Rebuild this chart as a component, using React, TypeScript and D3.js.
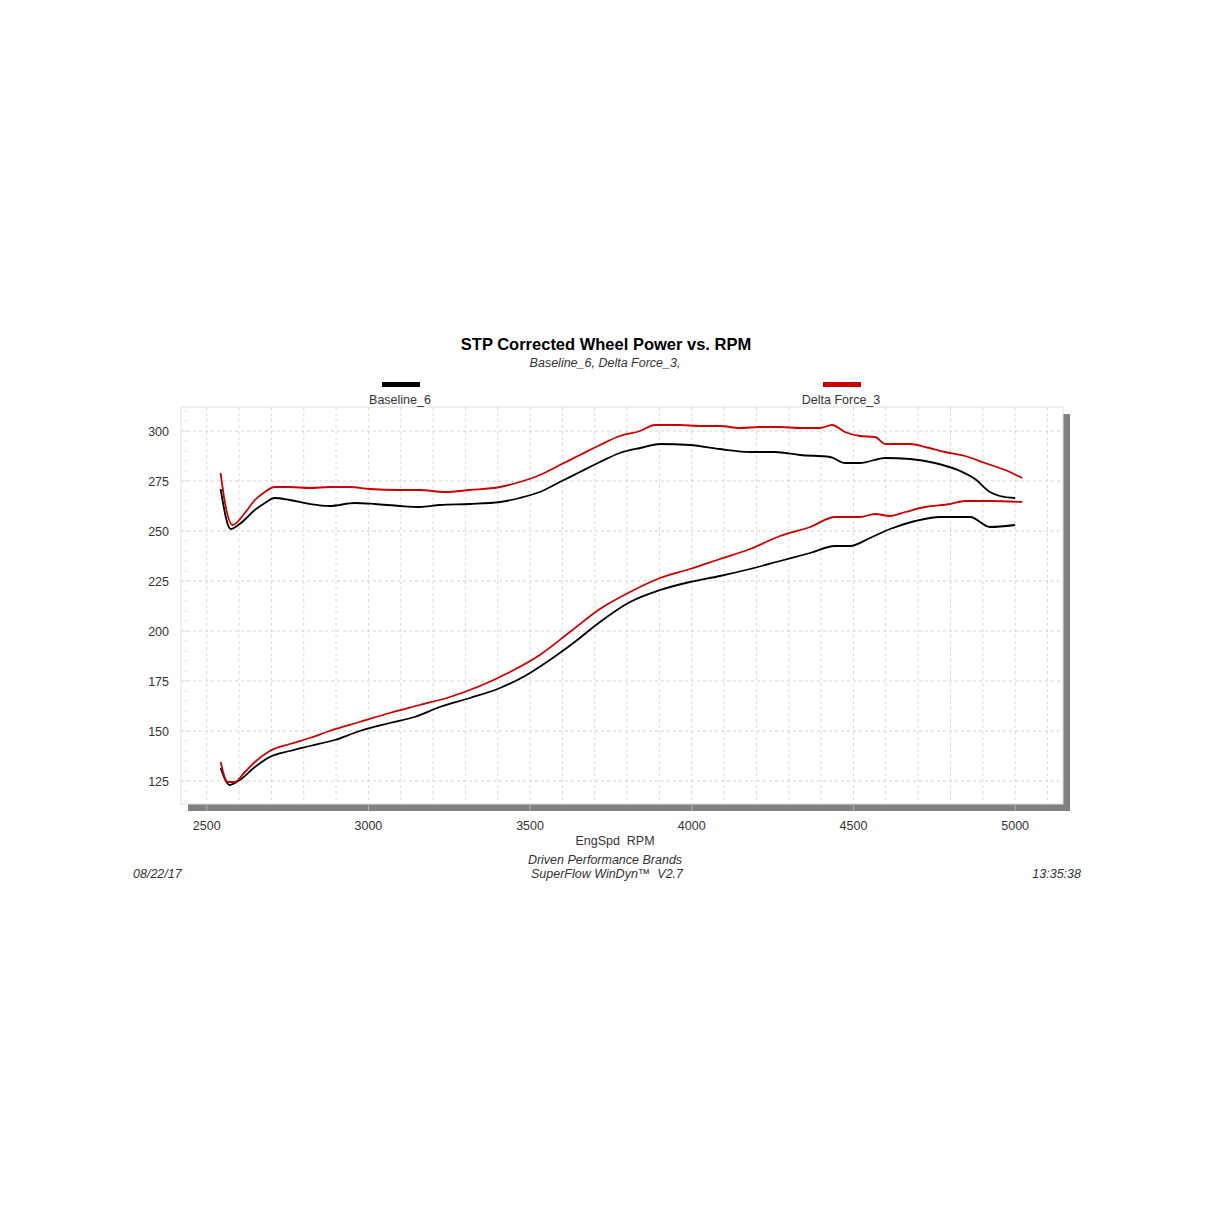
import React from "react";
import * as d3 from "d3";

const xTicks = [2500, 3000, 3500, 4000, 4500, 5000];
const yTicks = [125, 150, 175, 200, 225, 250, 275, 300];

const baseUpperRpm = [2543, 2574, 2602, 2649, 2680, 2710, 2757, 2819, 2880, 2958, 3020, 3097, 3159, 3221, 3314, 3407, 3468, 3530, 3592, 3654, 3716, 3778, 3840, 3902, 3994, 4087, 4180, 4257, 4335, 4428, 4474, 4520, 4598, 4675, 4752, 4830, 4876, 4922, 4953, 5000];
const baseUpperVal = [271, 251, 253.5, 260.5, 264, 266.5, 265.5, 263.5, 262.5, 264, 263.5, 262.5, 262, 263, 263.5, 264.5, 266.5, 269.5, 274.5, 279.5, 284.5, 289, 291.5, 293.5, 293, 291, 289.5, 289.5, 288, 287, 284, 284, 286.5, 286, 284, 280, 276, 269.5, 267.5, 266.5];

const deltaUpperRpm = [2543, 2555, 2580, 2618, 2649, 2680, 2710, 2757, 2819, 2880, 2942, 3004, 3097, 3159, 3236, 3314, 3407, 3468, 3530, 3592, 3654, 3716, 3778, 3840, 3886, 3963, 4025, 4087, 4149, 4211, 4273, 4335, 4396, 4434, 4474, 4520, 4567, 4598, 4675, 4722, 4783, 4845, 4907, 4969, 5022];
const deltaUpperVal = [279, 265.5, 253, 259, 265.5, 269.5, 272, 272, 271.5, 272, 272, 271, 270.5, 270.5, 269.5, 270.5, 272, 274.5, 278, 283, 288, 293, 297.5, 300, 303, 303, 302.5, 302.5, 301.5, 302, 302, 301.5, 301.5, 303, 299.5, 297.5, 297, 293.5, 293.5, 292, 289.5, 287.5, 284, 280.5, 276.5];

const baseLowerRpm = [2543, 2571, 2602, 2649, 2695, 2757, 2819, 2896, 2973, 3066, 3143, 3221, 3314, 3407, 3484, 3561, 3638, 3716, 3809, 3902, 3994, 4087, 4180, 4273, 4366, 4443, 4489, 4551, 4613, 4691, 4768, 4861, 4922, 5000];
const baseLowerVal = [131.5, 123, 125.5, 132, 137, 140, 142.5, 145.5, 150, 154, 157, 162, 166.5, 171.5, 177.5, 185.5, 194.5, 204.5, 214.5, 220.5, 224.5, 227.5, 231, 235, 239, 242.5, 242.5, 246.5, 251, 255, 257, 257, 252, 253];

const deltaLowerRpm = [2543, 2565, 2587, 2618, 2649, 2695, 2757, 2819, 2880, 2973, 3066, 3159, 3252, 3345, 3438, 3530, 3623, 3716, 3809, 3902, 3994, 4087, 4180, 4273, 4366, 4443, 4520, 4567, 4613, 4660, 4722, 4799, 4845, 4922, 5022];
const deltaLowerVal = [134.5, 124.5, 124.5, 129.5, 134.5, 140, 143.5, 146.5, 150, 154.5, 159, 163, 167, 172.5, 179.5, 188, 199.5, 211, 219.5, 226.5, 231, 236, 241, 247.5, 252, 257, 257, 258.5, 257.5, 259.5, 262, 263.5, 265, 265, 264.5];

const seriesNames = ["Baseline_6", "Delta Force_3"];
const seriesColors = ["#000000", "#cc0000"];

const FONT = "'Liberation Sans', Arial, sans-serif";

export default function App() {
  const W = 1214, H = 1214;
  const left = 181, right = 1063, top = 407, bottom = 804;
  const x = d3.scaleLinear().domain([2420.5, 5148]).range([left, right]);
  const y = d3.scaleLinear().domain([113.5, 312]).range([bottom, top]);
  const line = d3.line<[number, number]>().x(d => x(d[0])).y(d => y(d[1])).curve(d3.curveMonotoneX);
  const mk = (r: number[], v: number[]) => r.map((rr, i) => [rr, v[i]] as [number, number]);

  const vGrid = d3.range(2500, 5101, 100);
  const hGrid = yTicks;
  const minorY = d3.range(115, 311, 5);

  return (
    <svg width={W} height={H} style={{ position: "absolute", left: 0, top: 0, background: "#fff" }}>
      <rect x={0} y={0} width={W} height={H} fill="#fff" />
      {/* shadow */}
      <rect x={right} y={top + 7} width={7} height={bottom - top} fill="#808080" />
      <rect x={left + 7} y={bottom} width={right - left} height={7} fill="#808080" />
      <rect x={left} y={top} width={right - left} height={bottom - top} fill="#fff" stroke="#e0e0e0" strokeWidth={1} />
      {/* grid */}
      {vGrid.map(v => (
        <line key={"v" + v} x1={x(v)} x2={x(v)} y1={top} y2={bottom} stroke="#dadada" strokeDasharray="3,3" strokeWidth={1} />
      ))}
      {hGrid.map(v => (
        <line key={"h" + v} x1={left} x2={right} y1={y(v)} y2={y(v)} stroke="#d2d2d2" strokeDasharray="3,3" strokeWidth={1} />
      ))}
      {minorY.map(v => (
        <line key={"m" + v} x1={left + 3} x2={left + 6} y1={y(v)} y2={y(v)} stroke="#e4e4e4" strokeWidth={1} />
      ))}
      {/* x tick marks on shadow */}
      {xTicks.map(v => (
        <line key={"xt" + v} x1={x(v)} x2={x(v)} y1={bottom} y2={bottom + 7} stroke="#b0b0b0" strokeWidth={1} />
      ))}
      {/* curves */}
      <path d={line(mk(baseUpperRpm, baseUpperVal)) || ""} fill="none" stroke={seriesColors[0]} strokeWidth={1.8} />
      <path d={line(mk(baseLowerRpm, baseLowerVal)) || ""} fill="none" stroke={seriesColors[0]} strokeWidth={1.8} />
      <path d={line(mk(deltaUpperRpm, deltaUpperVal)) || ""} fill="none" stroke={seriesColors[1]} strokeWidth={1.8} />
      <path d={line(mk(deltaLowerRpm, deltaLowerVal)) || ""} fill="none" stroke={seriesColors[1]} strokeWidth={1.8} />
      {/* axis labels */}
      {xTicks.map(v => (
        <text key={"xl" + v} x={x(v)} y={830} textAnchor="middle" fontFamily={FONT} fontSize={12.5} fill="#333">{v}</text>
      ))}
      {yTicks.map(v => (
        <text key={"yl" + v} x={169} y={y(v) + 4.5} textAnchor="end" fontFamily={FONT} fontSize={12.5} fill="#333">{v}</text>
      ))}
      <text x={615} y={845} textAnchor="middle" fontFamily={FONT} fontSize={12.5} fill="#333" style={{ whiteSpace: "pre" }}>{"EngSpd  RPM"}</text>
      {/* title */}
      <text x={606} y={350} textAnchor="middle" fontFamily={FONT} fontSize={16.5} fontWeight="bold" fill="#000">STP Corrected Wheel Power vs. RPM</text>
      <text x={605} y={367} textAnchor="middle" fontFamily={FONT} fontSize={12.5} fontStyle="italic" fill="#333">Baseline_6, Delta Force_3,</text>
      {/* legend */}
      <rect x={382} y={382} width={38} height={5} fill={seriesColors[0]} />
      <text x={400} y={404} textAnchor="middle" fontFamily={FONT} fontSize={12.5} fill="#333">{seriesNames[0]}</text>
      <rect x={823} y={382} width={38} height={5} fill={seriesColors[1]} />
      <text x={841} y={404} textAnchor="middle" fontFamily={FONT} fontSize={12.5} fill="#333">{seriesNames[1]}</text>
      {/* footer */}
      <text x={605} y={864} textAnchor="middle" fontFamily={FONT} fontSize={12.5} fontStyle="italic" fill="#333">Driven Performance Brands</text>
      <text x={607} y={878} textAnchor="middle" fontFamily={FONT} fontSize={12.5} fontStyle="italic" fill="#333" style={{ whiteSpace: "pre" }}>{"SuperFlow WinDyn™  V2.7"}</text>
      <text x={133} y={878} textAnchor="start" fontFamily={FONT} fontSize={12.5} fontStyle="italic" fill="#333">08/22/17</text>
      <text x={1081} y={878} textAnchor="end" fontFamily={FONT} fontSize={12.5} fontStyle="italic" fill="#333">13:35:38</text>
    </svg>
  );
}
